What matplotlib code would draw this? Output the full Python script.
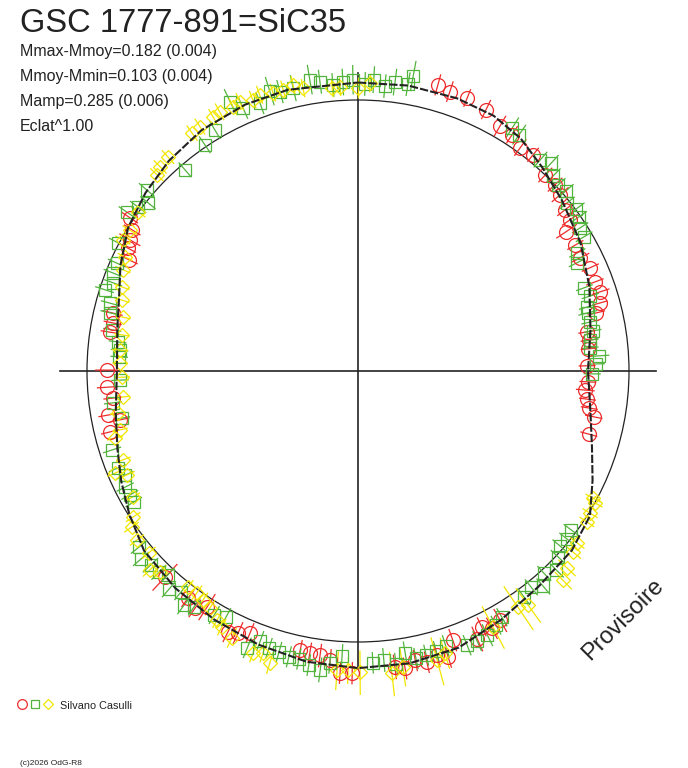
import numpy as np
import matplotlib.pyplot as plt
from matplotlib.collections import LineCollection
from matplotlib.patches import Circle

plt.rcParams["font.family"] = ["Liberation Sans", "DejaVu Sans"]

# phase in degrees (clockwise from top), dm = magnitude minus mean magnitude
fit_phase = [0, 10, 20, 28, 35, 42, 50, 60, 70, 80, 90, 100, 108, 115, 122, 130,
             140, 150, 160, 170, 180, 190, 200, 210, 220, 230, 238, 245, 252, 260,
             270, 280, 287, 294, 302, 310, 318, 327, 337, 346, 360]
fit_dm = [-0.068, -0.073, -0.074, -0.070, -0.050, -0.015, 0.020, 0.058, 0.104, 0.150,
          0.178, 0.150, 0.105, 0.050, -0.010, -0.032, -0.040, -0.062, -0.090, -0.099,
          -0.100, -0.093, -0.078, -0.063, -0.050, -0.033, 0.005, 0.040, 0.075, 0.105,
          0.127, 0.112, 0.088, 0.045, 0.000, -0.025, -0.046, -0.063, -0.071, -0.073,
          -0.068]

red_phase = [15.6, 18.2, 21.8, 26.1, 30.1, 33.1, 36.0, 39.0, 43.7, 46.6,
             48.9, 52.1, 54.5, 56.2, 59.9, 63.0, 66.0, 69.4, 71.9, 74.3,
             76.3, 80.3, 82.4, 84.5, 88.7, 92.7, 94.8, 97.0, 99.1, 101.0,
             105.3, 150.3, 152.5, 154.2, 156.0, 160.6, 162.5, 164.5, 166.7, 168.8,
             171.0, 172.9, 181.1, 183.4, 185.5, 187.6, 189.7, 191.7, 202.4, 204.6,
             206.5, 212.6, 214.5, 216.8, 223.1, 256.2, 258.4, 260.0, 263.7, 266.3,
             270.2, 278.9, 281.1, 283.3, 295.9, 298.1, 299.9, 302.0, 303.9]
red_dm = [-0.099, -0.088, -0.088, -0.077, -0.047, -0.043, -0.020, -0.028, 0.000, 0.000,
          0.012, 0.037, 0.045, 0.088, 0.083, 0.092, 0.070, 0.075, 0.066, 0.083,
          0.109, 0.169, 0.164, 0.173, 0.183, 0.178, 0.188, 0.173, 0.159, 0.132,
          0.136, -0.062, -0.073, -0.051, -0.085, -0.055, -0.110, -0.092, -0.107, -0.092,
          -0.114, -0.103, -0.118, -0.118, -0.073, -0.062, -0.058, -0.055, -0.047, -0.066,
          -0.081, -0.035, -0.066, -0.051, -0.043, 0.066, 0.118, 0.070, 0.101, 0.083,
          0.083, 0.083, 0.088, 0.079, 0.070, 0.041, 0.033, 0.020, -0.016]
red_err = [0.04, 0.04, 0.035, 0.04, 0.045, 0.04, 0.04, 0.035, 0.04, 0.04,
           0.045, 0.04, 0.04, 0.05, 0.04, 0.045, 0.04, 0.04, 0.04, 0.035,
           0.04, 0.04, 0.04, 0.035, 0.04, 0.04, 0.045, 0.04, 0.04, 0.04,
           0.04, 0.05, 0.045, 0.04, 0.05, 0.045, 0.04, 0.045, 0.04, 0.04,
           0.04, 0.045, 0.04, 0.04, 0.04, 0.045, 0.04, 0.04, 0.04, 0.045,
           0.04, 0.06, 0.04, 0.04, 0.07, 0.04, 0.045, 0.04, 0.04, 0.045,
           0.05, 0.04, 0.04, 0.045, 0.04, 0.04, 0.05, 0.04, 0.04]

green_phase = [334.6, 336.4, 339.9, 342.5, 344.4, 347.1, 350.6, 352.5, 355.0, 357.0,
               359.0, 1.4, 3.1, 5.4, 7.3, 9.9, 10.6, 32.4, 34.3, 40.8,
               42.9, 45.0, 47.1, 49.1, 51.2, 53.4, 55.1, 57.2, 59.3, 61.7,
               63.7, 69.8, 72.1, 74.4, 75.8, 78.1, 80.3, 82.4, 84.3, 86.4,
               88.3, 90.7, 126.7, 128.8, 130.9, 132.9, 135.1, 137.4, 139.3, 141.3,
               143.7, 149.7, 151.5, 153.9, 156.2, 158.3, 162.3, 164.4, 166.5, 168.6,
               170.5, 172.6, 174.9, 177.1, 183.2, 185.5, 187.2, 189.5, 191.6, 193.6,
               195.7, 197.8, 199.9, 201.8, 208.2, 210.5, 214.8, 216.6, 218.7, 220.9,
               223.0, 224.7, 226.9, 229.1, 231.2, 239.7, 241.5, 243.5, 245.9, 248.0,
               252.2, 258.7, 262.6, 267.8, 273.4, 275.0, 276.9, 279.5, 283.2, 285.3,
               287.8, 289.8, 291.8, 294.1, 298.1, 304.5, 306.7, 308.7, 310.6, 319.3,
               325.9, 329.3]
green_dm = [-0.103, -0.062, -0.055, -0.085, -0.073, -0.073, -0.092, -0.079, -0.062, -0.070,
            -0.077, -0.062, -0.079, -0.058, -0.077, -0.077, -0.110, -0.066, -0.058, -0.032,
            -0.051, -0.020, -0.008, -0.016, 0.012, -0.004, 0.008, 0.028, 0.033, 0.092,
            0.114, 0.127, 0.114, 0.141, 0.146, 0.146, 0.141, 0.159, 0.164, 0.125,
            0.141, 0.159, 0.020, 0.012, 0.016, -0.008, -0.039, -0.016, -0.051, -0.024,
            -0.035, -0.055, -0.070, -0.088, -0.092, -0.092, -0.070, -0.077, -0.081, -0.085,
            -0.058, -0.092, -0.073, -0.081, -0.055, -0.085, -0.114, -0.103, -0.088, -0.088,
            -0.081, -0.077, -0.062, -0.103, -0.032, -0.047, -0.062, -0.081, -0.047, -0.068,
            -0.032, -0.047, -0.051, -0.062, -0.039, 0.047, 0.047, 0.045, 0.066, 0.049,
            0.053, 0.127, 0.101, 0.141, 0.136, 0.136, 0.123, 0.092, 0.066, 0.058,
            0.020, 0.045, 0.028, 0.028, -0.004, -0.035, -0.012, 0.008, -0.028, 0.024,
            -0.008, -0.035]
green_err = [0.05, 0.045, 0.045, 0.055, 0.045, 0.05, 0.055, 0.045, 0.045, 0.05,
             0.055, 0.045, 0.05, 0.045, 0.05, 0.045, 0.055, 0.045, 0.045, 0.04,
             0.04, 0.04, 0.04, 0.04, 0.04, 0.04, 0.04, 0.04, 0.04, 0.04,
             0.04, 0.04, 0.04, 0.04, 0.045, 0.04, 0.04, 0.04, 0.04, 0.045,
             0.04, 0.04, 0.04, 0.04, 0.04, 0.04, 0.04, 0.04, 0.04, 0.04,
             0.04, 0.04, 0.04, 0.045, 0.04, 0.04, 0.045, 0.04, 0.04, 0.04,
             0.045, 0.04, 0.045, 0.04, 0.045, 0.04, 0.045, 0.04, 0.04, 0.04,
             0.04, 0.04, 0.04, 0.04, 0.04, 0.04, 0.04, 0.04, 0.04, 0.04,
             0.04, 0.04, 0.04, 0.04, 0.04, 0.04, 0.04, 0.04, 0.04, 0.04,
             0.04, 0.04, 0.04, 0.04, 0.04, 0.04, 0.04, 0.04, 0.04, 0.04,
             0.04, 0.04, 0.04, 0.04, 0.04, 0.04, 0.04, 0.04, 0.04, 0.04,
             0.04, 0.04]

yellow_phase = [325.1, 327.1, 330.3, 331.9, 334.7, 336.3, 338.8, 340.4, 343.0, 345.1,
                347.2, 349.0, 354.8, 356.4, 0.0, 2.4, 318.4, 315.9, 314.3, 305.9,
                301.7, 299.1, 296.1, 293.3, 289.6, 286.7, 282.9, 278.7, 275.0, 271.9,
                268.5, 263.7, 260.1, 256.1, 254.6, 249.3, 247.2, 245.8, 240.8, 237.0,
                235.4, 232.6, 229.0, 226.3, 224.6, 218.2, 216.0, 214.1, 212.0, 209.5,
                208.0, 205.3, 200.4, 198.6, 196.8, 184.0, 181.9, 179.6, 173.6, 171.4,
                164.7, 162.9, 152.2, 145.9, 144.0, 135.6, 133.3, 130.1, 128.1, 123.4,
                121.5, 119.1, 118.4]
yellow_dm = [-0.073, -0.077, -0.081, -0.087, -0.081, -0.088, -0.077, -0.085, -0.077, -0.077,
             -0.085, -0.066, -0.051, -0.053, -0.047, -0.066, -0.058, -0.051, -0.039, 0.000,
             0.012, 0.008, 0.049, 0.062, 0.085, 0.103, 0.127, 0.136, 0.136, 0.141,
             0.150, 0.146, 0.114, 0.109, 0.079, 0.083, 0.031, 0.075, 0.053, 0.012,
             -0.016, -0.028, -0.024, -0.066, -0.043, -0.016, -0.012, -0.022, -0.032, -0.058,
             -0.073, -0.092, -0.114, -0.102, -0.128, -0.110, -0.107, -0.114, -0.125, -0.107,
             -0.110, -0.092, -0.070, -0.055, -0.070, -0.085, -0.062, -0.039, -0.030, -0.012,
             -0.004, 0.000, 0.016]
yellow_err = [0.035, 0.035, 0.035, 0.035, 0.035, 0.035, 0.035, 0.035, 0.035, 0.035,
              0.035, 0.035, 0.035, 0.035, 0.04, 0.035, 0.035, 0.035, 0.035, 0.035,
              0.035, 0.035, 0.035, 0.035, 0.035, 0.035, 0.035, 0.035, 0.035, 0.035,
              0.035, 0.035, 0.035, 0.035, 0.035, 0.035, 0.035, 0.035, 0.035, 0.035,
              0.035, 0.035, 0.035, 0.035, 0.035, 0.035, 0.035, 0.035, 0.035, 0.035,
              0.035, 0.04, 0.035, 0.035, 0.04, 0.07, 0.05, 0.08, 0.08, 0.07,
              0.09, 0.06, 0.09, 0.10, 0.08, 0.045, 0.045, 0.04, 0.035, 0.035,
              0.035, 0.035, 0.035]

RED = "#ee2b2b"
GREEN = "#52b43c"
YELLOW = "#f2e600"
INK = "#222222"
PX = 271.0  # pixels per unit radius (mean magnitude circle)


def to_xy(phase, dm):
    r = 10 ** (-0.4 * np.asarray(dm, float))
    t = np.radians(np.asarray(phase, float))
    return r * np.sin(t), r * np.cos(t)


def err_lines(phase, dm, err):
    dm = np.asarray(dm, float)
    err = np.asarray(err, float)
    x1, y1 = to_xy(phase, dm - err)
    x2, y2 = to_xy(phase, dm + err)
    return [[(a, b), (c, d)] for a, b, c, d in zip(x1, y1, x2, y2)]


fig = plt.figure(figsize=(6.88, 7.68), dpi=100)
fig.patch.set_facecolor("white")
ax = fig.add_axes([0, 0, 1, 1])
ax.set_xlim(-358 / PX, 330 / PX)
ax.set_ylim(-397 / PX, 371 / PX)
ax.axis("off")

# axes cross and mean circle
ax.plot([-1.1, 1.1], [0, 0], color=INK, lw=1.2, zorder=1)
ax.plot([0, 0], [-1.1, 1.1], color=INK, lw=1.2, zorder=1)
ax.add_patch(Circle((0, 0), 1.0, fill=False, ec=INK, lw=0.9, zorder=1))

series = [
    (red_phase, red_dm, red_err, RED, "o", 10),
    (green_phase, green_dm, green_err, GREEN, "s", 8),
    (yellow_phase, yellow_dm, yellow_err, YELLOW, "D", 7.5),
]
for ph, dm, er, col, mk, ms in series:
    ax.add_collection(LineCollection(err_lines(ph, dm, er), colors=col, lw=0.9, zorder=2))
    x, y = to_xy(ph, dm)
    ax.plot(x, y, mk, mfc="none", mec=col, ms=ms, mew=0.9, zorder=3)

# fitted curve
fx, fy = to_xy(fit_phase, fit_dm)
ax.plot(fx, fy, color=INK, lw=1.5, ls=(0, (4, 1)), zorder=4)

# texts
fig.text(20 / 688, 1 - 32 / 768, "GSC 1777-891=SiC35", fontsize=23.5, color=INK,
         va="baseline", ha="left")
stats = ["Mmax-Mmoy=0.182 (0.004)", "Mmoy-Mmin=0.103 (0.004)",
         "Mamp=0.285 (0.006)", "Eclat^1.00"]
for i, s in enumerate(stats):
    fig.text(20 / 688, 1 - (56 + 25 * i) / 768, s, fontsize=11.5, color=INK,
             va="baseline", ha="left")

fig.text(623 / 688, 1 - 620 / 768, "Provisoire", fontsize=17, color=INK,
         rotation=45, rotation_mode="anchor", ha="center", va="center")

# legend
for xp, mk, col, ms in [(22, "o", RED, 7), (35, "s", GREEN, 5.5), (48, "D", YELLOW, 5.5)]:
    ax.plot([xp / 688], [1 - 704 / 768], mk, mfc="none", mec=col, ms=ms, mew=0.9,
            transform=fig.transFigure, clip_on=False)
fig.text(60 / 688, 1 - 709 / 768, "Silvano Casulli", fontsize=7.8, color=INK,
         va="baseline", ha="left")
fig.text(20 / 688, 1 - 765 / 768, "(c)2026 OdG-R8", fontsize=6, color=INK,
         va="baseline", ha="left")

fig.savefig("out.png", dpi=100, facecolor="white")
